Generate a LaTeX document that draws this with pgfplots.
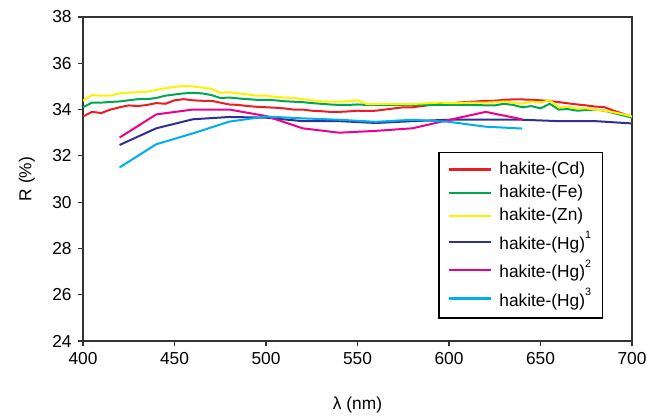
\documentclass[border=0pt]{standalone}
\usepackage{fontspec}
\setmainfont{Liberation Sans}
\usepackage{pgfplots}
\pgfplotsset{compat=1.18}

\definecolor{cRed}{RGB}{237,28,36}
\definecolor{cGreen}{RGB}{0,166,81}
\definecolor{cYellow}{RGB}{255,242,0}
\definecolor{cNavy}{RGB}{46,49,146}
\definecolor{cMag}{RGB}{236,0,140}
\definecolor{cCyan}{RGB}{0,174,239}

\newcommand{\supnum}[1]{\raisebox{0.6em}{\fontsize{8}{8}\selectfont #1}}

\begin{document}
\fontsize{13}{16}\selectfont
\begin{tikzpicture}
\useasboundingbox (-62.25pt,-56.25pt) rectangle (423.75pt,255.75pt);
\begin{axis}[
    at={(0,0)}, anchor=south west,
    width=411.75pt, height=243pt,
    scale only axis,
    xmin=400, xmax=700, ymin=24, ymax=38,
    xtick={400,450,...,700},
    ytick={24,26,...,38},
    tick pos=left,
    tick align=outside,
    major tick length=4pt,
    axis line style={line width=0.9pt, black!80},
    every tick/.style={black!80, line width=0.8pt},
    /pgf/number format/assume math mode=true,
    ticklabel style={font=\fontsize{13}{16}\selectfont},
    xlabel={λ (nm)},
    ylabel={R (\%)},
    xlabel style={font=\fontsize{13}{16}\selectfont, at={(axis description cs:0.5,-0.1975)}, anchor=center},
    ylabel style={font=\fontsize{13}{16}\selectfont, at={(axis description cs:-0.102,0.5)}, anchor=center},
    legend style={at={(0.947,0.583)}, anchor=north east, draw=black,
        line width=0.8pt, font=\fontsize{13}{16}\selectfont,
        inner xsep=6.5pt, inner ysep=5pt, row sep=2pt},
    legend cell align=left,
    legend image code/.code={\draw[#1, line width=1.6pt] (0pt,0pt) -- (31.5pt,0pt);
        \path[draw=none] (0pt,0pt) -- (36pt,0pt);},
    every axis plot/.append style={line width=1.5pt},
]
\addplot[cRed] coordinates {
(400,33.7)(405,33.9)(410,33.85)(415,34.0)(420,34.1)(425,34.18)(430,34.15)(435,34.2)(440,34.28)(445,34.25)
(450,34.4)(455,34.45)(460,34.4)(465,34.38)(470,34.38)(475,34.3)(480,34.22)(485,34.2)(490,34.15)(495,34.12)
(500,34.1)(505,34.08)(510,34.05)(515,34.0)(520,34.0)(525,33.95)(530,33.93)(535,33.9)(540,33.9)(545,33.92)
(550,33.95)(555,33.94)(560,33.95)(565,34.0)(570,34.05)(575,34.1)(580,34.1)(585,34.15)(590,34.2)(595,34.24)
(600,34.25)(605,34.3)(610,34.33)(615,34.35)(620,34.38)(625,34.38)(630,34.42)(635,34.44)(640,34.44)(645,34.42)
(650,34.4)(655,34.37)(660,34.32)(665,34.27)(670,34.22)(675,34.18)(680,34.13)(685,34.1)(690,33.95)(695,33.82)(700,33.68)
};
\addplot[cGreen] coordinates {
(400,34.1)(405,34.3)(410,34.3)(415,34.33)(420,34.35)(425,34.4)(430,34.45)(435,34.45)(440,34.5)(445,34.6)
(450,34.65)(455,34.7)(460,34.72)(465,34.7)(470,34.63)(475,34.5)(480,34.52)(485,34.48)(490,34.45)(495,34.42)
(500,34.42)(505,34.4)(510,34.36)(515,34.34)(520,34.32)(525,34.28)(530,34.25)(535,34.22)(540,34.2)(545,34.2)
(550,34.22)(555,34.2)(560,34.2)(565,34.2)(570,34.2)(575,34.2)(580,34.2)(585,34.2)(590,34.2)(595,34.2)
(600,34.2)(605,34.2)(610,34.2)(615,34.2)(620,34.18)(625,34.18)(630,34.25)(635,34.2)(640,34.1)(645,34.15)
(650,34.05)(655,34.25)(660,34.0)(665,34.02)(670,33.95)(675,33.98)(680,34.0)(685,33.95)(690,33.85)(695,33.75)(700,33.65)
};
\addplot[cYellow] coordinates {
(400,34.38)(405,34.63)(410,34.6)(415,34.6)(420,34.7)(425,34.73)(430,34.75)(435,34.77)(440,34.85)(445,34.92)
(450,34.98)(455,35.02)(460,35.0)(465,34.95)(470,34.9)(475,34.72)(480,34.75)(485,34.7)(490,34.65)(495,34.6)
(500,34.6)(505,34.55)(510,34.52)(515,34.5)(520,34.45)(525,34.4)(530,34.36)(535,34.34)(540,34.34)(545,34.36)
(550,34.4)(555,34.24)(560,34.24)(565,34.25)(570,34.24)(575,34.24)(580,34.24)(585,34.26)(590,34.28)(595,34.3)
(600,34.28)(605,34.28)(610,34.3)(615,34.3)(620,34.3)(625,34.32)(630,34.35)(635,34.3)(640,34.25)(645,34.35)
(650,34.3)(655,34.4)(660,34.1)(665,34.12)(670,34.05)(675,34.05)(680,34.0)(685,33.95)(690,33.88)(695,33.8)(700,33.7)
};
\addplot[cNavy] coordinates {
(420,32.47)(440,33.19)(460,33.58)(480,33.68)(500,33.65)(520,33.5)(540,33.5)(560,33.42)(580,33.5)(600,33.56)
(620,33.56)(640,33.56)(660,33.5)(680,33.5)(700,33.4)
};
\addplot[cMag] coordinates {
(420,32.79)(440,33.79)(460,34.0)(480,34.0)(500,33.72)(520,33.19)(540,33.0)(560,33.08)(580,33.19)(600,33.55)
(620,33.9)(640,33.58)
};
\addplot[cCyan] coordinates {
(420,31.5)(440,32.5)(460,32.97)(480,33.48)(500,33.7)(520,33.62)(540,33.56)(560,33.47)(580,33.56)(600,33.47)
(620,33.26)(640,33.18)
};
\legend{hakite-(Cd), hakite-(Fe), hakite-(Zn), hakite-(Hg)\supnum{1}, hakite-(Hg)\supnum{2}, hakite-(Hg)\supnum{3}}
\end{axis}
\end{tikzpicture}
\end{document}
